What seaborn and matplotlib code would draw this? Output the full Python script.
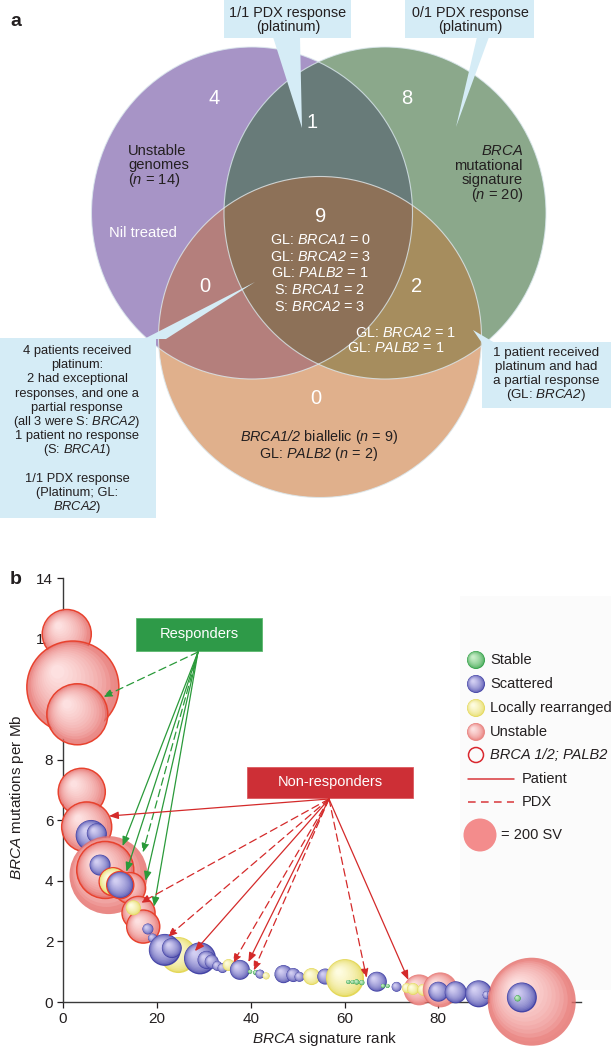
import numpy as np
import matplotlib
matplotlib.use("Agg")
import matplotlib.pyplot as plt
from matplotlib.patches import Ellipse, Polygon, Rectangle
import matplotlib.colors as mcolors
import seaborn as sns

# ---------------- data ----------------
# panel a : Venn counts (purple only, P&G, green only, triple, P&O, G&O, orange only)
venn_counts = ["4", "1", "8", "9", "0", "2", "0"]
triple_lines = ["GL: $\\mathsf{BRCA1}$ = 0", "GL: $\\mathsf{BRCA2}$ = 3", "GL: $\\mathsf{PALB2}$ = 1",
                "S: $\\mathsf{BRCA1}$ = 2", "S: $\\mathsf{BRCA2}$ = 3"]
go_lines = ["GL: $\\mathsf{BRCA2}$ = 1", "GL: $\\mathsf{PALB2}$ = 1"]
unstable_lines = ["Unstable", "genomes", "($\\mathsf{n}$ = 14)"]
sig_lines = ["$\\mathsf{BRCA}$", "mutational", "signature", "($\\mathsf{n}$ = 20)"]
biallelic_lines = ["$\\mathsf{BRCA1/2}$ biallelic ($\\mathsf{n}$ = 9)",
                   "GL: $\\mathsf{PALB2}$ ($\\mathsf{n}$ = 2)"]
box1_lines = ["1/1 PDX response", "(platinum)"]
box2_lines = ["0/1 PDX response", "(platinum)"]
left_box_lines = ["4 patients received", "platinum:", "2 had exceptional", "responses, and one a",
                  "partial response", "(all 3 were S: $\\mathsf{BRCA2}$)", "1 patient no response",
                  "(S: $\\mathsf{BRCA1}$)", "", "1/1 PDX response", "(Platinum; GL:", "$\\mathsf{BRCA2}$)"]
right_box_lines = ["1 patient received", "platinum and had", "a partial response",
                   "(GL: $\\mathsf{BRCA2}$)"]

# panel b : bubbles (drawn in list order)
bubble_rank = [0.8, 2.1, 3.05, 4.0, 5.05, 6.0, 7.2, 9.7, 9.0, 7.9, 14.3, 10.7, 12.2, 16.1, 17.1,
               15.0, 18.1, 19.1, 24.6, 21.7, 23.2, 29.2, 30.6, 31.7, 32.9, 34.0, 35.3, 37.7, 39.9,
               41.1, 42.0, 43.3, 45.7, 47.0, 49.1, 50.4, 52.0, 53.0, 55.9, 58.0, 59.1, 60.1, 60.8,
               61.7, 62.6, 63.7, 65.5, 66.9, 68.2, 69.2, 71.1, 75.9, 73.3, 74.6, 76.8, 80.4, 80.0,
               83.7, 88.6, 90.3, 91.4, 93.0, 93.6, 99.9, 97.8, 96.9]
bubble_mut = [12.15, 10.4, 9.5, 6.94, 5.78, 5.5, 5.57, 4.19, 4.36, 4.52, 3.76, 3.97, 3.86, 2.94,
              2.49, 3.11, 2.41, 2.11, 1.55, 1.72, 1.78, 1.44, 1.39, 1.33, 1.19, 1.12, 1.22, 1.06,
              1.0, 0.97, 0.92, 0.86, 0.87, 0.92, 0.89, 0.83, 0.78, 0.84, 0.84, 0.73, 0.73, 0.79,
              0.66, 0.66, 0.66, 0.64, 0.62, 0.67, 0.53, 0.53, 0.5, 0.4, 0.46, 0.43, 0.4, 0.4,
              0.34, 0.32, 0.27, 0.23, 0.23, 0.17, 0.2, 0.01, 0.15, 0.12]
bubble_sv = [441, 1554, 683, 406, 459, 176, 73, 1117, 597, 81, 176, 144, 134, 200, 200,
             41, 22, 15, 238, 188, 73, 188, 60, 36, 18, 18, 26, 73, 3,
             5, 15, 9, 5, 60, 36, 18, 2, 53, 47, 3, 18, 265, 3,
             3, 5, 5, 5, 73, 3, 3, 18, 176, 18, 26, 26, 225, 73,
             89, 134, 12, 18, 7, 36, 1422, 165, 7]
bubble_class = ["Unstable"] * 5 + ["Scattered"] * 2 + ["Unstable"] * 2 + ["Scattered"] + \
    ["Unstable", "Locally rearranged", "Scattered", "Unstable", "Unstable", "Locally rearranged",
     "Scattered", "Scattered", "Locally rearranged", "Scattered", "Scattered", "Scattered",
     "Scattered", "Scattered", "Scattered", "Scattered", "Locally rearranged", "Scattered",
     "Stable", "Stable", "Scattered", "Locally rearranged", "Stable", "Scattered", "Scattered",
     "Scattered", "Stable", "Locally rearranged", "Scattered", "Stable", "Scattered",
     "Locally rearranged", "Stable", "Stable", "Stable", "Stable", "Stable", "Scattered",
     "Stable", "Stable", "Scattered", "Unstable", "Locally rearranged", "Locally rearranged",
     "Locally rearranged", "Unstable", "Scattered", "Scattered", "Scattered", "Scattered",
     "Scattered", "Stable", "Scattered", "Unstable", "Scattered", "Stable"]
bubble_brca = [True, True, True, True, True, False, False, False, True, False, True, True, True,
               True, True] + [False] * 51

# arrows: responders / non-responders (target rank, mutations, PDX?)
resp_rank = [8.5, 12.7, 13.5, 17.0, 17.6, 19.4]
resp_mut = [10.07, 5.15, 4.3, 4.93, 4.0, 3.15]
resp_pdx = [True, False, False, True, False, False]
nonresp_rank = [9.8, 16.5, 22.3, 28.1, 36.2, 39.5, 40.6, 64.7, 73.6]
nonresp_mut = [6.14, 3.27, 2.15, 1.68, 1.28, 1.32, 1.03, 0.79, 0.73]
nonresp_pdx = [False, True, True, False, True, False, True, True, False]

x_ticks = [0, 20, 40, 60, 80, 100]
y_ticks = [0, 2, 4, 6, 8, 10, 12, 14]
legend_classes = ["Stable", "Scattered", "Locally rearranged", "Unstable"]

# ---------------- style ----------------
sns.set_theme(style="ticks")
plt.rcParams["font.family"] = ["Liberation Sans", "DejaVu Sans"]
plt.rcParams["mathtext.fontset"] = "custom"
plt.rcParams["mathtext.rm"] = "Liberation Sans"
plt.rcParams["mathtext.it"] = "Liberation Sans:italic"
plt.rcParams["mathtext.sf"] = "Liberation Sans:italic"
plt.rcParams["mathtext.bf"] = "Liberation Sans:bold"

DARK = "#231f20"
CLASS_COL = {
    "Stable": ("#33a048", "#c8eec8"),
    "Scattered": ("#4444a6", "#d2cef2"),
    "Locally rearranged": ("#e4d85a", "#fefce0"),
    "Unstable": ("#e46c68", "#fde0e0"),
}
OUTLINE = "#e8422e"

W, H = 611, 1050
fig = plt.figure(figsize=(W / 100, H / 100), dpi=100)
back = fig.add_axes([0, 0, 1, 1], label="back")
back.set_xlim(0, W); back.set_ylim(H, 0); back.axis("off"); back.set_zorder(0)
ax = fig.add_axes([63 / W, (H - 1002) / H, 518 / W, 424 / H], label="main")
ax.set_zorder(1); ax.patch.set_alpha(0)
ov = fig.add_axes([0, 0, 1, 1], label="overlay")
ov.set_xlim(0, W); ov.set_ylim(H, 0); ov.axis("off"); ov.set_zorder(2)


def txt(a, x, y, s, size=10, color=DARK, ha="center", **kw):
    a.text(x, y, s, fontsize=size, color=color, ha=ha, va="center", **kw)


# ---------------- panel a : Venn ----------------
E_P = (252, 213, 321, 332)
E_G = (385, 213, 322, 332)
E_O = (320, 337, 323, 321)


def ell_pts(e, n=1440):
    cx, cy, w, h = e
    t = np.linspace(0, 2 * np.pi, n, endpoint=False)
    return np.column_stack([cx + w / 2 * np.cos(t), cy + h / 2 * np.sin(t)])


def inside(p, e):
    cx, cy, w, h = e
    return ((p[:, 0] - cx) / (w / 2)) ** 2 + ((p[:, 1] - cy) / (h / 2)) ** 2 <= 1 + 1e-9


def region(ells):
    pts = []
    for i, e in enumerate(ells):
        p = ell_pts(e)
        m = np.ones(len(p), bool)
        for j, f in enumerate(ells):
            if j != i:
                m &= inside(p, f)
        pts.append(p[m])
    P = np.vstack(pts)
    c = P.mean(0)
    ang = np.arctan2(P[:, 1] - c[1], P[:, 0] - c[0])
    return P[np.argsort(ang)]


for e, col in [(E_P, "#a794c6"), (E_G, "#8ba88b"), (E_O, "#e0b08c")]:
    ov.add_patch(Ellipse(e[:2], e[2], e[3], facecolor=col, edgecolor="none", zorder=1))
for ells, col in [((E_P, E_G), "#687b79"), ((E_P, E_O), "#b47f7c"), ((E_G, E_O), "#a68d5e"),
                  ((E_P, E_G, E_O), "#8d7158")]:
    ov.add_patch(Polygon(region(ells), closed=True, facecolor=col, edgecolor="none", zorder=2))
for e in (E_P, E_G, E_O):
    ov.add_patch(Ellipse(e[:2], e[2], e[3], facecolor="none", edgecolor="#dbe8ee",
                         lw=0.8, alpha=0.8, zorder=3))

num_pos = [(214, 98), (312, 123), (407, 98), (321, 216), (205, 286), (417, 286), (316, 398)]
for (x, y), s in zip(num_pos, venn_counts):
    txt(ov, x, y, s, size=14.5, color="white", zorder=5)

for i, s in enumerate(unstable_lines):
    txt(ov, 128, 151 + 14.5 * i, s, size=10.6, ha="left", zorder=5)
for i, s in enumerate(sig_lines):
    txt(ov, 523, 151 + 14.5 * i, s, size=10.6, ha="right", zorder=5)
txt(ov, 143, 233, "Nil treated", size=10.6, color="white", zorder=5)
for i, s in enumerate(triple_lines):
    txt(ov, 320, 240 + 16.7 * i, s, size=10.4, color="white", zorder=5)
txt(ov, 405, 333, go_lines[0], size=10.4, color="white", zorder=5)
txt(ov, 396, 348, go_lines[1], size=10.4, color="white", zorder=5)
for i, s in enumerate(biallelic_lines):
    txt(ov, 319, 437 + 17 * i, s, size=10.4, zorder=5)

BOXC = "#d5ecf6"
ov.add_patch(Rectangle((224, 0), 127, 38, facecolor=BOXC, edgecolor="none", zorder=6))
ov.add_patch(Rectangle((405, 0), 129, 38, facecolor=BOXC, edgecolor="none", zorder=6))
ov.add_patch(Polygon([(273, 37), (300, 37), (302, 128)], facecolor=BOXC, edgecolor="none", zorder=6))
ov.add_patch(Polygon([(477, 37), (489, 37), (456, 127)], facecolor=BOXC, edgecolor="none", zorder=6))
for i, s in enumerate(box1_lines):
    txt(ov, 288, 13 + 13.5 * i, s, size=10.4, zorder=7)
for i, s in enumerate(box2_lines):
    txt(ov, 470, 13 + 13.5 * i, s, size=10.4, zorder=7)

ov.add_patch(Rectangle((0, 338), 156, 180, facecolor=BOXC, edgecolor="none", zorder=6))
ov.add_patch(Polygon([(144, 339), (166, 339), (255, 282)], facecolor=BOXC, edgecolor="none", zorder=6))
for i, s in enumerate(left_box_lines):
    if s:
        txt(ov, 77, 351 + 14.2 * i, s, size=9.3, zorder=7)
ov.add_patch(Rectangle((482, 342), 129, 66, facecolor=BOXC, edgecolor="none", zorder=6))
ov.add_patch(Polygon([(482, 343), (495, 343), (473, 330)], facecolor=BOXC, edgecolor="none", zorder=6))
for i, s in enumerate(right_box_lines):
    txt(ov, 546, 353 + 14 * i, s, size=9.6, zorder=7)

ov.text(16, 22, "a", fontsize=14, fontweight="bold", color=DARK, ha="center", va="center")
ov.text(16, 580, "b", fontsize=14, fontweight="bold", color=DARK, ha="center", va="center")

# ---------------- panel b ----------------
back.add_patch(Rectangle((460, 596), 151, 394, facecolor="#fbfbfb", edgecolor="none"))

ax.set_xlim(0, 110.4)
ax.set_ylim(0, 14)
ax.set_xticks(x_ticks)
ax.set_yticks(y_ticks)
sns.despine(ax=ax)
for sp in ("left", "bottom"):
    ax.spines[sp].set_linewidth(1.0)
    ax.spines[sp].set_color("#3a3a3a")
ax.tick_params(direction="out", length=4, width=0.9, labelsize=11, pad=3, colors=DARK)
ax.set_xlabel("$\\mathsf{BRCA}$ signature rank", fontsize=11, color=DARK)
ax.set_ylabel("$\\mathsf{BRCA}$ mutations per Mb", fontsize=11, color=DARK)
ax.xaxis.set_label_coords(0.506, -0.066)
ax.yaxis.set_label_coords(-0.072, 0.483)


def sv_to_px(sv):
    return 33.0 * np.sqrt(sv / 200.0)


def sphere(a, x, y, d_px, cls, outline=False, z=3.0, K=14):
    base, light = CLASS_COL[cls]
    b = np.array(mcolors.to_rgb(base)); l = np.array(mcolors.to_rgb(light))
    X, Y = a.transData.transform((x, y))
    inv = a.transData.inverted()
    xs, ys, ss, cs, ecs, lws = [], [], [], [], [], []
    for k in range(K):
        t = k / (K - 1)
        dk = d_px * (1 - 0.85 * t)
        off = 0.22 * d_px * t
        px, py = inv.transform((X - off * 0.75, Y + off * 0.75))
        xs.append(px); ys.append(py)
        ss.append((dk * 0.72) ** 2)
        al = 0.8 if (cls == "Unstable" and k == 0) else 1.0
        cs.append(tuple(b + (l - b) * (t ** 0.5)) + (al,))
        if k == 0 and outline:
            ecs.append(OUTLINE); lws.append(1.1)
        else:
            ecs.append("none"); lws.append(0.0)
    a.scatter(xs, ys, s=ss, c=cs, edgecolors=ecs, linewidths=lws, zorder=z, clip_on=False)


for i, (x, y, sv, cl, br) in enumerate(zip(bubble_rank, bubble_mut, bubble_sv, bubble_class,
                                           bubble_brca)):
    sphere(ax, x, y, sv_to_px(sv), cl, outline=br, z=3 + i * 0.01)

# legend
for i, cl in enumerate(legend_classes):
    sphere(ov, 476, 660 + 24 * i, 18, cl, z=8)
    txt(ov, 490, 660 + 24 * i, cl, size=10.5, ha="left", zorder=8)
ov.scatter([476], [755], s=(15 * 0.72) ** 2, facecolors="none", edgecolors="#d9272e",
           linewidths=1.1, zorder=8)
txt(ov, 490, 755, "BRCA 1/2; PALB2", size=10.5, ha="left", style="italic", zorder=8)
ov.plot([468, 514], [779, 779], color="#d9373a", lw=1.1, zorder=8)
txt(ov, 522, 779, "Patient", size=10.5, ha="left", zorder=8)
ov.plot([468, 514], [802, 802], color="#d9373a", lw=1.1, ls=(0, (5, 3.5)), zorder=8)
txt(ov, 522, 802, "PDX", size=10.5, ha="left", zorder=8)
ov.scatter([480], [835], s=(sv_to_px(200) * 0.72) ** 2, color="#f38c8c", edgecolors="none", zorder=8)
txt(ov, 501, 835, "= 200 SV", size=10.5, ha="left", zorder=8)

# responder boxes and arrows
ov.add_patch(Rectangle((136, 618), 126, 33, facecolor="#2e9a48", edgecolor="#5cb86e", lw=0.6, zorder=9))
txt(ov, 199, 634, "Responders", size=10.5, color="white", zorder=10)
ov.add_patch(Rectangle((247, 767), 166, 31, facecolor="#cd2f36", edgecolor="#dc5a5f", lw=0.6, zorder=9))
txt(ov, 330, 782, "Non-responders", size=10.5, color="white", zorder=10)


def arrow(x, y, origin, color, dashed):
    ov.annotate("", xy=(x, y), xycoords=ax.transData, xytext=origin, textcoords="data",
                annotation_clip=False, zorder=9,
                arrowprops=dict(arrowstyle="-|>,head_length=0.55,head_width=0.22",
                                color=color, lw=0.9, shrinkA=0, shrinkB=0, mutation_scale=10,
                                linestyle=(0, (6, 3.5)) if dashed else "-"))


for x, y, d in zip(resp_rank, resp_mut, resp_pdx):
    arrow(x, y, (198, 652), "#2a9a3a", d)
for x, y, d in zip(nonresp_rank, nonresp_mut, nonresp_pdx):
    arrow(x, y, (329, 799), "#d42a2a", d)

fig.savefig("out.png", dpi=100)
